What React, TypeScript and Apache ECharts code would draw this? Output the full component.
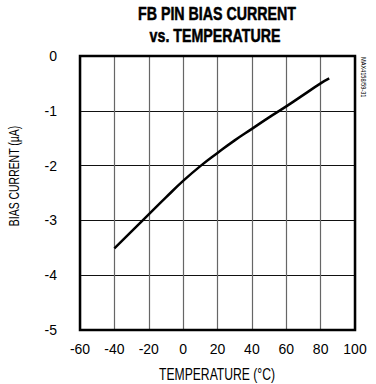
import React, { useEffect, useRef } from "react";
import * as echarts from "echarts";

// Bias current of the FB pin versus ambient temperature
const temperatureC = [-40, -30, -20, -10, 0, 10, 20, 30, 40, 50, 60, 70, 80, 85];
const biasCurrentUA = [-3.51, -3.2, -2.89, -2.58, -2.28, -2.01, -1.77, -1.54, -1.33, -1.12, -0.92, -0.71, -0.5, -0.41];

const xTicks = { min: -60, max: 100, interval: 20 };
const yTicks = { min: -5, max: 0, interval: 1 };

const titleLines = ["FB PIN BIAS CURRENT", "vs. TEMPERATURE"];
const xName = "TEMPERATURE (°C)";
const yName = "BIAS CURRENT (µA)";
const partNumber = "MAX4158/59-31";

const FONT = "'Liberation Sans', Arial, Helvetica, sans-serif";

export default function App() {
  const ref = useRef<HTMLDivElement>(null);

  useEffect(() => {
    if (!ref.current) return;
    const chart = echarts.init(ref.current, null, { renderer: "svg" });
    const titleStyle = {
      fontFamily: FONT,
      fontWeight: "bold",
      fontSize: 18,
      fill: "#000",
      stroke: "#000",
      lineWidth: 0.5,
      textAlign: "center",
      textVerticalAlign: "middle",
    };
    chart.setOption({
      animation: false,
      backgroundColor: "#fff",
      grid: {
        left: 80,
        right: 21,
        top: 56,
        bottom: 54,
        show: true,
        borderColor: "#000",
        borderWidth: 2.5,
        containLabel: false,
        outerBoundsMode: "none",
        z: 5,
      },
      xAxis: {
        type: "value",
        ...xTicks,
        axisLine: { show: false },
        axisTick: { show: false },
        axisLabel: { fontFamily: FONT, fontSize: 14, color: "#000", margin: 12 },
        splitLine: { show: true, lineStyle: { color: "#666", width: 1.2 } },
      },
      yAxis: {
        type: "value",
        ...yTicks,
        axisLine: { show: false },
        axisTick: { show: false },
        axisLabel: { fontFamily: FONT, fontSize: 14, color: "#000", margin: 23 },
        splitLine: { show: true, lineStyle: { color: "#111", width: 1 } },
      },
      graphic: [
        {
          type: "text",
          x: 217,
          y: 13,
          scaleX: 0.79,
          style: { ...titleStyle, text: titleLines[0] },
        },
        {
          type: "text",
          x: 215,
          y: 35,
          scaleX: 0.79,
          style: { ...titleStyle, text: titleLines[1] },
        },
        {
          type: "text",
          x: 217,
          y: 374,
          scaleX: 0.76,
          style: {
            text: xName,
            fontFamily: FONT,
            fontSize: 16,
            fill: "#000",
            textAlign: "center",
            textVerticalAlign: "middle",
          },
        },
        {
          type: "text",
          x: 14,
          y: 176,
          rotation: Math.PI / 2,
          scaleX: 0.72,
          style: {
            text: yName,
            fontFamily: FONT,
            fontSize: 14.5,
            fill: "#000",
            textAlign: "center",
            textVerticalAlign: "middle",
          },
        },
        {
          type: "text",
          x: 360,
          y: 57,
          rotation: -Math.PI / 2,
          scaleX: 0.8,
          style: {
            text: partNumber,
            fontFamily: FONT,
            fontSize: 7,
            fill: "#000",
            textAlign: "left",
            textVerticalAlign: "bottom",
          },
        },
      ],
      series: [
        {
          type: "line",
          data: temperatureC.map((t, i) => [t, biasCurrentUA[i]]),
          smooth: true,
          showSymbol: false,
          lineStyle: { color: "#000", width: 2.5 },
          z: 10,
        },
      ],
    });
    return () => chart.dispose();
  }, []);

  return <div ref={ref} style={{ width: 376, height: 384, position: "absolute", left: 0, top: 0 }} />;
}
